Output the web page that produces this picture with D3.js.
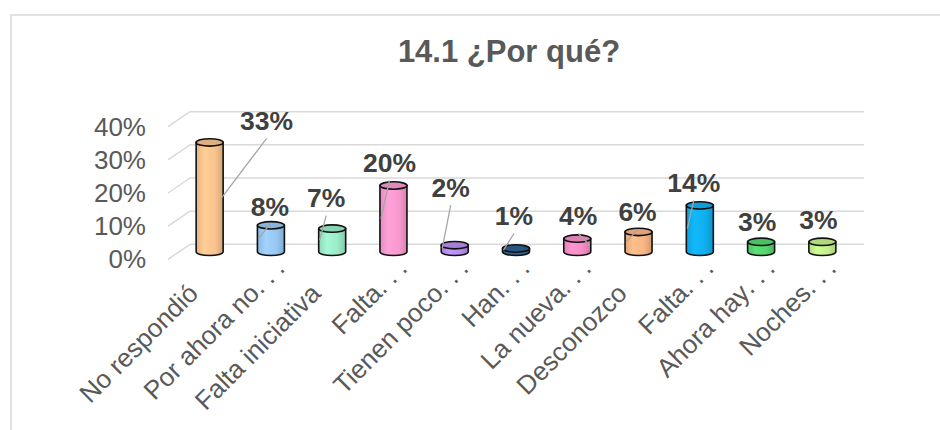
<!DOCTYPE html>
<html>
<head>
<meta charset="utf-8">
<script src="https://cdn.jsdelivr.net/npm/d3@7"></script>
<style>
  html, body { margin: 0; padding: 0; background: #fff; }
  svg { display: block; font-family: "Liberation Sans", Arial, sans-serif; }
</style>
</head>
<body>
<svg id="chart" width="940" height="430"></svg>
<script>
// data
const categories = ["No respondió", "Por ahora no", "Falta iniciativa", "Falta", "Tienen poco",
  "Han", "La nueva", "Desconozco", "Falta", "Ahora hay", "Noches"]
const truncated = [false, true, false, true, true, true, true, false, true, true, true]
const values = [33, 8, 7, 20, 2, 1, 4, 6, 14, 3, 3]
const colors = ["#F9C38E", "#98C8F4", "#9BEBC8", "#FA99CF", "#B68EF0", "#2F5F8F",
  "#F58DC6", "#F9B584", "#0FAFEF", "#55D46E", "#C4F08C"]
const yTicks = [0, 10, 20, 30, 40]
// label nudges (data labels were moved by hand in the original)
const labelDx = [57, -1, -6, -4, -4, -2, 1, -1, -6, -4, -4]
const labelDy = [0, 3, -9, -1, -36, -11, -1, 2, -1, 2, 0]
const showLeader = [true, true, true, true, true, true, true, true, true, false, false]

const svg = d3.select("#chart")
const depth = { dx: 22, dy: 15 }

// frame
svg.append("rect")
  .attr("x", 11).attr("y", 15)
  .attr("width", 960).attr("height", 440)
  .attr("fill", "#fff")
  .attr("stroke", "#D9D9D9")
  .attr("stroke-width", 1.5)

svg.append("text")
  .attr("x", 509).attr("y", 62)
  .attr("text-anchor", "middle")
  .attr("font-size", 31)
  .attr("font-weight", "bold")
  .attr("fill", "#595959")
  .text("14.1 ¿Por qué?")

// scales: back wall and front edge
const yBack = d3.scaleLinear().domain([0, 40]).range([244.3, 111.7])
const yFront = yBack.copy().range(yBack.range().map((d) => d + depth.dy))
const x = d3.scaleBand().domain(d3.range(categories.length)).range([168, 842]).padding(0)

// gridlines: back wall + left floor diagonal
const grid = svg.append("g").attr("stroke", "#D9D9D9").attr("stroke-width", 1.5).attr("fill", "none")
grid.selectAll("line.back")
  .data(yTicks)
  .enter()
  .append("line")
  .attr("x1", x.range()[0] + depth.dx)
  .attr("x2", x.range()[1] + depth.dx)
  .attr("y1", (d) => yBack(d))
  .attr("y2", (d) => yBack(d))
grid.selectAll("line.side")
  .data(yTicks)
  .enter()
  .append("line")
  .attr("x1", x.range()[0])
  .attr("x2", x.range()[0] + depth.dx)
  .attr("y1", (d) => yFront(d))
  .attr("y2", (d) => yBack(d))

// y axis labels
const yAxis = svg.append("g")
  .attr("transform", "translate(150,0)")
  .call(d3.axisLeft(yFront).tickValues(yTicks).tickSize(0).tickPadding(4).tickFormat((d) => d + "%"))
yAxis.select(".domain").remove()
yAxis.selectAll("text")
  .attr("font-size", 26)
  .attr("font-family", "Liberation Sans, Arial, sans-serif")
  .attr("fill", "#595959")

// gradients
const defs = svg.append("defs")
colors.forEach((c, i) => {
  const g = defs.append("linearGradient").attr("id", "cyl" + i).attr("x1", 0).attr("x2", 1).attr("y1", 0).attr("y2", 0)
  g.append("stop").attr("offset", "0%").attr("stop-color", d3.color(c).darker(0.25))
  g.append("stop").attr("offset", "30%").attr("stop-color", d3.color(c).brighter(0.15))
  g.append("stop").attr("offset", "70%").attr("stop-color", c)
  g.append("stop").attr("offset", "100%").attr("stop-color", d3.color(c).darker(0.45))
})

const rx = 13.5
const ry = 3.7
const cx = (i) => x(i) + x.bandwidth() / 2 + depth.dx / 2
const yMid = (v) => yBack(v) + depth.dy / 2

const bars = svg.selectAll(".bar")
  .data(values)
  .enter()
  .append("g")
  .attr("class", "bar")

bars.append("path")
  .attr("fill", (d, i) => `url(#cyl${i})`)
  .attr("stroke", "#111")
  .attr("stroke-width", 1.6)
  .attr("stroke-linejoin", "round")
  .attr("d", (d, i) => {
    const c = cx(i), yt = yMid(d), yb = yMid(0)
    return `M ${c - rx} ${yt} L ${c - rx} ${yb} A ${rx} ${ry} 0 0 0 ${c + rx} ${yb} L ${c + rx} ${yt} Z`
  })

bars.append("ellipse")
  .attr("cx", (d, i) => cx(i))
  .attr("cy", (d) => yMid(d))
  .attr("rx", rx)
  .attr("ry", ry)
  .attr("fill", (d, i) => d3.color(colors[i]).darker(0.3))
  .attr("stroke", "#111")
  .attr("stroke-width", 1.6)

// data labels
const labelX = (i) => cx(i) + labelDx[i]
const labelY = (d, i) => yMid(d) - 22 + labelDy[i]

svg.selectAll(".leader")
  .data(values)
  .enter()
  .filter((d, i) => showLeader[i])
  .append("line")
  .attr("class", "leader")
  .attr("stroke", "#A6A6A6")
  .attr("stroke-width", 1.3)
  .attr("x1", (d, i) => labelX(i))
  .attr("y1", (d, i) => labelY(d, i) + 18)
  .attr("x2", (d, i) => cx(i) + (labelDx[i] >= 0 ? 1 : -1) * 12.5)
  .attr("y2", (d) => (yMid(d) + yMid(0)) / 2)

svg.selectAll(".dlabel")
  .data(values)
  .enter()
  .append("text")
  .attr("class", "dlabel")
  .attr("x", (d, i) => labelX(i))
  .attr("y", (d, i) => labelY(d, i))
  .attr("dy", "0.36em")
  .attr("text-anchor", "middle")
  .attr("font-size", 26.5)
  .attr("font-weight", "bold")
  .attr("fill", "#404040")
  .text((d) => d + "%")

// category labels, rotated
const catG = svg.selectAll(".cat")
  .data(categories)
  .enter()
  .append("g")
  .attr("class", "cat")
  .attr("transform", (d, i) => `translate(${x(i) + x.bandwidth() / 2 + 1},295) rotate(-45)`)

catG.append("text")
  .attr("text-anchor", "end")
  .attr("font-size", 26)
  .attr("fill", "#595959")
  .text((d) => d)

catG.filter((d, i) => truncated[i])
  .append("text")
  .attr("text-anchor", "start")
  .attr("font-size", 26)
  .attr("letter-spacing", 7)
  .attr("fill", "#595959")
  .text("...")
</script>
</body>
</html>
